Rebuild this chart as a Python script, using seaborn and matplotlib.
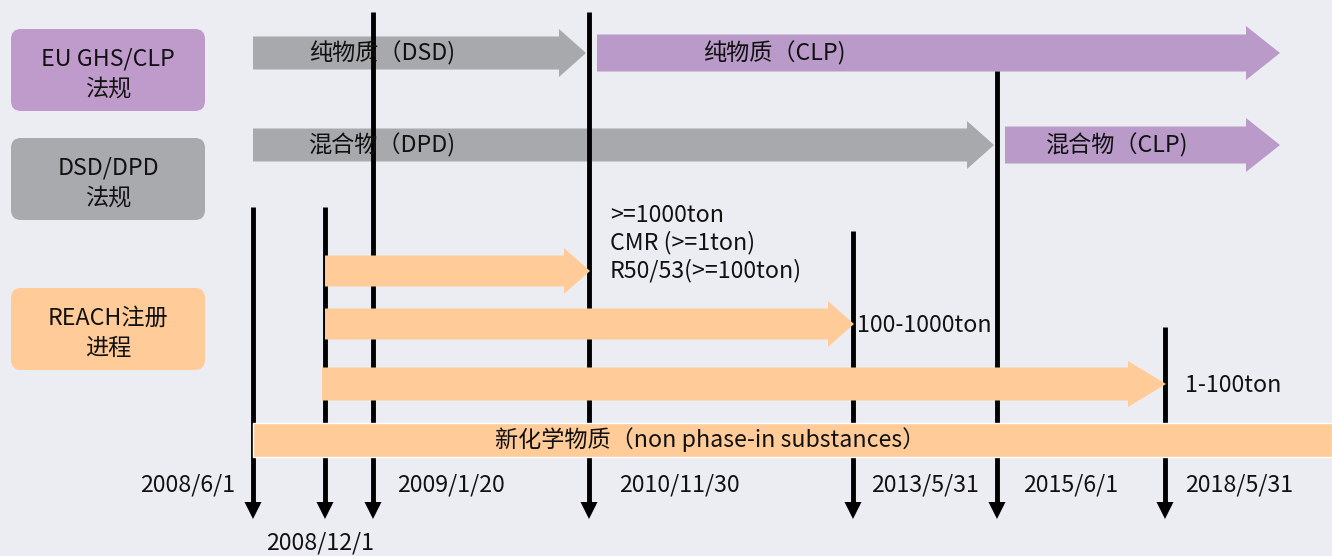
import matplotlib
matplotlib.use("Agg")
import seaborn as sns
import matplotlib.pyplot as plt
from matplotlib.patches import FancyArrow, FancyBboxPatch

# milestone dates on the timeline
dates = ['2008/6/1', '2008/12/1', '2009/1/20', '2010/11/30', '2013/5/31', '2015/6/1', '2018/5/31']

# regulation boxes on the left
reg_labels = ['EU GHS/CLP\n法规', 'DSD/DPD\n法规', 'REACH注册\n进程']
reg_kinds = ['CLP', 'DSD', 'REACH']

# classification phases (None = open ended)
phase_labels = ['纯物质（DSD)', '纯物质（CLP)', '混合物（DPD)', '混合物（CLP)']
phase_kinds = ['DSD', 'CLP', 'DSD', 'CLP']
phase_rows = [0, 0, 1, 1]
phase_start = ['2008/6/1', '2010/11/30', '2008/6/1', '2015/6/1']
phase_end = ['2010/11/30', None, '2015/6/1', None]

# REACH registration deadlines
reach_labels = ['>=1000ton\nCMR (>=1ton)\nR50/53(>=100ton)', '100-1000ton', '1-100ton']
reach_start = ['2008/12/1', '2008/12/1', '2008/12/1']
reach_end = ['2010/11/30', '2013/5/31', '2018/5/31']

new_label = '新化学物质（non phase-in substances）'
new_start = '2008/6/1'

# --- layout (pixel space) ---
W, H = 1332, 556
bg = '#ECEDF3'
ink = '#111111'
colors = {'CLP': '#B99AC9', 'DSD': '#A8A9AC', 'REACH': '#FFCC99'}
box_colors = {'CLP': '#BE9BCB', 'DSD': '#A9AAAE', 'REACH': '#FFCC99'}
date_x = dict(zip(dates, [253, 325, 373, 589, 853, 997, 1165]))
line_top = dict(zip(dates, [207, 207, 12, 12, 231, 71, 327]))
label_dx = dict(zip(dates, [-18, -5, 24, 30, 18, 26, 20]))
open_end = 1280
phase_y = [53, 145]
phase_text_x = [309, 703, 309, 1046]
reach_y = [271, 324, 384]
reach_text = [(610, 243), (857, 326), (1185, 385)]
box_y = [70, 179, 329]
fs = 16.7

sns.set_theme(style="dark", rc={"figure.facecolor": bg, "axes.facecolor": bg})
plt.rcParams['font.family'] = ['Noto Sans CJK SC', 'DejaVu Sans']

fig = plt.figure(figsize=(W / 100, H / 100), dpi=100)
ax = fig.add_axes([0, 0, 1, 1])
ax.set_xlim(0, W)
ax.set_ylim(H, 0)
ax.axis('off')

# left boxes
for lab, kind, yc in zip(reg_labels, reg_kinds, box_y):
    ax.add_patch(FancyBboxPatch((11, yc - 41), 194, 82,
                                boxstyle="round,pad=0,rounding_size=10",
                                fc=box_colors[kind], ec='none'))
    ax.text(108, yc + 4, lab, ha='center', va='center', fontsize=fs,
            linespacing=1.4, color=ink)

# vertical milestone lines with arrow heads
for d in dates:
    x = date_x[d]
    ax.plot([x, x], [line_top[d], 505], color='black', lw=3.5, zorder=2,
            solid_capstyle='butt')
    ax.add_patch(FancyArrow(x, 500, 0, 19, width=0, head_width=17,
                            head_length=17, length_includes_head=True,
                            fc='black', ec='black', lw=0, zorder=2))

# classification phases
for lab, kind, row, s, e, tx in zip(phase_labels, phase_kinds, phase_rows,
                                    phase_start, phase_end, phase_text_x):
    x0 = date_x[s] + (8 if kind == 'CLP' else 0)
    x1 = date_x[e] - 3 if e else open_end
    y = phase_y[row]
    if kind == 'DSD':
        body, hw, hl = 33, 48, 27
    else:
        body, hw, hl = 37, 54, 34
    ax.add_patch(FancyArrow(x0, y, x1 - x0, 0, width=body, head_width=hw,
                            head_length=hl, length_includes_head=True,
                            fc=colors[kind], ec='none', zorder=1))
    ax.text(tx, y, lab, ha='left', va='center', fontsize=fs, color=ink, zorder=4)

# REACH registration arrows
for i, (lab, s, e) in enumerate(zip(reach_labels, reach_start, reach_end)):
    x0 = date_x[s] - (3 if i == 2 else 0)
    x1 = date_x[e] + 1
    big = i == 2
    ax.add_patch(FancyArrow(x0, reach_y[i], x1 - x0, 0, width=33 if big else 31,
                            head_width=46,
                            head_length=38 if big else 26,
                            length_includes_head=True,
                            fc=colors['REACH'], ec='none', zorder=3))
    tx, ty = reach_text[i]
    ax.text(tx, ty, lab, ha='left', va='center', fontsize=fs,
            linespacing=1.22, color=ink, zorder=4)

# new substances band
bx = date_x[new_start]
ax.barh(440, W - bx, height=34, left=bx, color=colors['REACH'], zorder=3)
ax.text(710, 440, new_label, ha='center', va='center', fontsize=fs,
        color=ink, zorder=4)

# date labels
for d in dates:
    x = date_x[d] + label_dx[d]
    if d == '2008/6/1':
        ax.text(x, 485, d, ha='right', va='center', fontsize=fs, color=ink)
    elif d == '2008/12/1':
        ax.text(x, 543, d, ha='center', va='center', fontsize=fs, color=ink)
    else:
        ax.text(x, 485, d, ha='left', va='center', fontsize=fs, color=ink)

fig.savefig('out.png', dpi=100, facecolor=bg)
